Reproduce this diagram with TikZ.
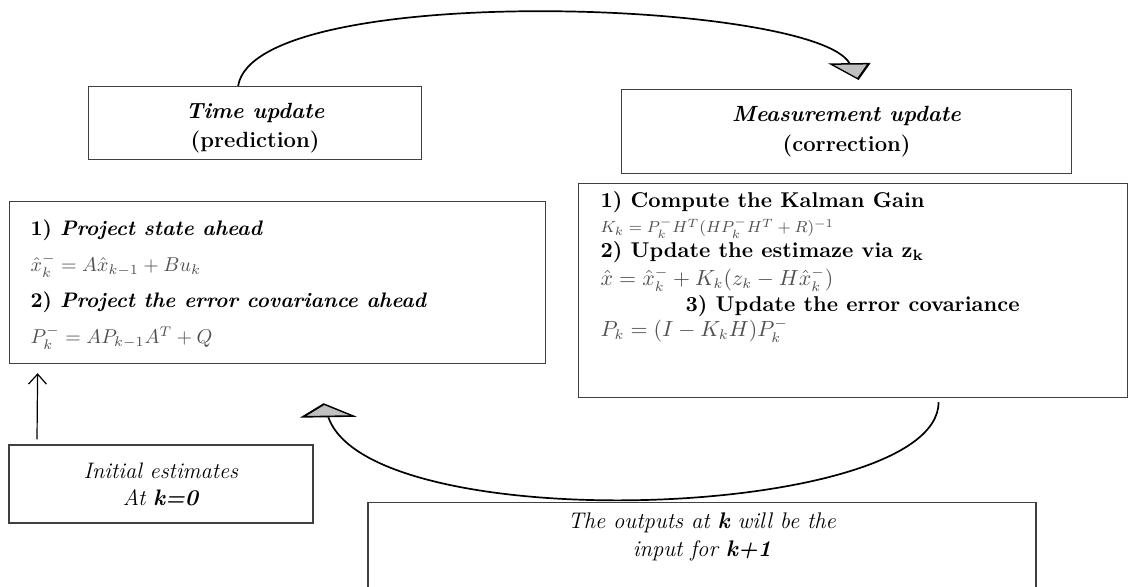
\documentclass[tikz,border=0pt]{standalone}
\usepackage{amsmath,amssymb}
\usepackage{tikz}
\usetikzlibrary{arrows.meta}
\usetikzlibrary{calc}

\definecolor{framegray}{HTML}{404040}
\definecolor{eqgray}{HTML}{505050}
\definecolor{tipgray}{HTML}{C0C0C0}

\tikzset{
  frame/.style={draw=framegray, line width=0.6pt, inner sep=0pt},
  looparc/.style={line width=0.85pt},
}
\newcommand{\eqn}[1]{{\color{eqgray}$#1$}}

\begin{document}
\begin{tikzpicture}[x=0.5pt,y=-0.5pt]
\useasboundingbox (0,0) rectangle (1129,586);
\clip (0,0) rectangle (1129,586);

\node[frame, anchor=north west] (time) at (88,86)
      {\parbox[c][36.5pt][t]{166.5pt}{\centering\fontsize{11}{14.5}\selectfont
       \vspace*{8.4pt}
       \textbf{\textit{Time update}}\\\textbf{(prediction)}}};
\node[frame, anchor=north west] (meas) at (621,89)
      {\parbox[c][42pt][t]{225pt}{\centering\fontsize{11}{15}\selectfont
       \vspace*{8.4pt}
       \textbf{\textit{Measurement update}}\\\textbf{(correction)}}};

\node[frame, anchor=north west, inner xsep=10.5pt] (predict) at (9,201)
      {\parbox[c][81pt][t]{247pt}{\fontsize{10.5}{18}\selectfont
       \vspace*{9pt}
       \textbf{1) \textit{Project state ahead}}\\
       {\fontsize{10}{18}\selectfont\eqn{\hat{x}_k^- = A\hat{x}_{k-1} + Bu_k}}\\
       \textbf{2) \textit{Project the error covariance ahead}}\\
       {\fontsize{10}{18}\selectfont\eqn{P_k^- = AP_{k-1}A^T + Q}}}};
\node[frame, anchor=north west, inner xsep=11pt] (correct) at (578,183)
      {\parbox[c][107pt][t]{252.5pt}{\fontsize{10.7}{12.5}\selectfont
       \vspace*{4pt}
       \textbf{1) Compute the Kalman Gain}\\
       {\fontsize{8}{12.5}\selectfont\eqn{K_k = P_k^- H^T(HP_k^- H^T + R)^{-1}}}\\
       \textbf{2) Update the estimaze via z\textsubscript{k}}\\[1.5pt]
       \eqn{\hat{x} = \hat{x}_k^- + K_k(z_k - H\hat{x}_k^-)}\\[0.5pt]
       \hspace*{42.5pt}\textbf{3) Update the error covariance}\\
       \eqn{P_k = (I - K_k H)P_k^-}}};

\node[frame, minimum width=152pt, minimum height=39pt, align=center,
      font=\fontsize{11.2}{13.5}\selectfont] (init) at (161,484)
      {\textit{Initial estimates}\\\textit{At \textbf{k=0}}};
\node[frame, anchor=north] (output) at (702,502)
      {\parbox[c][60pt][t]{334pt}{\centering\fontsize{11.3}{14}\selectfont
       \vspace*{5pt}
       \textit{The outputs at \textbf{k} will be the}\\
       \textit{input for \textbf{k+1}}}};

\draw[looparc, -{Triangle[width=18.6pt,length=9.6pt,slant=0.53,fill=tipgray]}]
      ($(time.north)+(-17,0)$) .. controls (255,-20) and (815,0) .. ($(meas.north)+(12,-9)$);
\draw[looparc, -{Triangle[width=27.1pt,length=7.4pt,slant=0.32,fill=tipgray]}]
      ($(correct.south)+(85.5,4)$) .. controls (938,520) and (370,540) .. ($(predict.south)+(46,39)$);
\draw[line width=0.6pt, -{Straight Barb[length=5pt,width=9pt]}]
      ($(init.north)+(-124,-5)$) -- ($(predict.south)+(-240,9)$);
\end{tikzpicture}
\end{document}
